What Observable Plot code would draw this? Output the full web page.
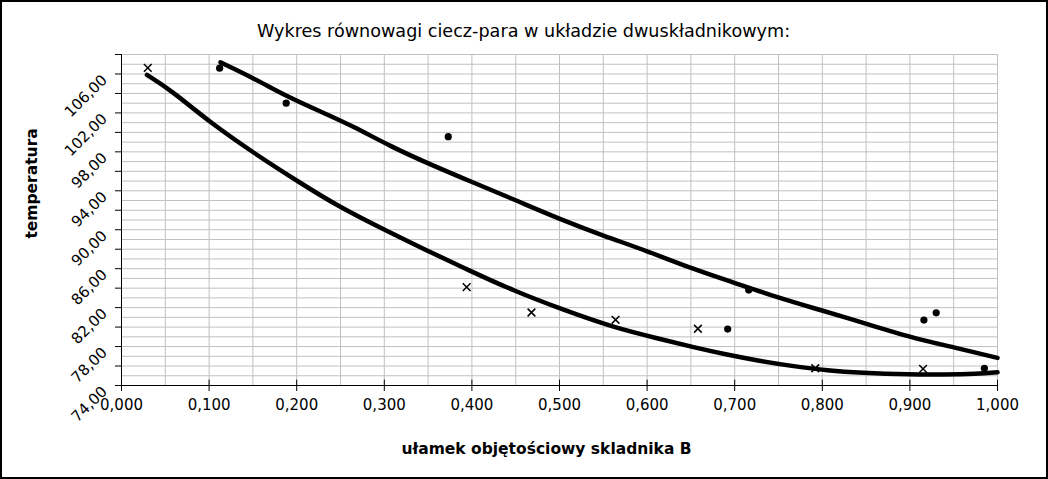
<!DOCTYPE html>
<html>
<head>
<meta charset="utf-8">
<script src="https://cdn.jsdelivr.net/npm/d3@7"></script>
<script src="https://cdn.jsdelivr.net/npm/@observablehq/plot@0.6"></script>
<style>
  body { margin: 0; background: #fff; }
  #wrap { position: relative; width: 1048px; height: 479px; }
  #border { position: absolute; left: 0; top: 0; width: 1048px; height: 479px; box-sizing: border-box; border: 2px solid #000; pointer-events: none; }
</style>
</head>
<body>
<div id="wrap"><div id="border"></div></div>
<script>
// ---- data ----
const titleText = "Wykres równowagi ciecz-para w układzie dwuskładnikowym:";
const xTitle = "ułamek objętościowy skladnika B";
const yTitle = "temperatura";

// liquid (boiling) curve
const liquidX = [0.029, 0.056, 0.102, 0.151, 0.201, 0.250, 0.307, 0.345, 0.398, 0.448, 0.501, 0.562, 0.615, 0.653, 0.691, 0.730, 0.767, 0.806, 0.844, 0.901, 0.938, 0.977, 1.000];
const liquidY = [105.90, 104.37, 100.95, 97.88, 94.98, 92.25, 89.69, 88.02, 85.77, 83.72, 81.88, 79.94, 78.78, 77.92, 77.17, 76.49, 75.98, 75.54, 75.30, 75.13, 75.13, 75.20, 75.36];

// vapour (dew) curve
const vaporX = [0.113, 0.151, 0.189, 0.227, 0.265, 0.307, 0.353, 0.398, 0.448, 0.501, 0.551, 0.600, 0.653, 0.699, 0.749, 0.798, 0.851, 0.901, 0.950, 1.000];
const vaporY = [107.19, 105.56, 103.68, 102.15, 100.61, 98.56, 96.69, 94.98, 93.11, 91.06, 89.35, 87.82, 85.94, 84.57, 83.04, 81.75, 80.32, 78.94, 77.92, 76.84];

// measured points (crosses)
const crossX = [0.030, 0.394, 0.468, 0.564, 0.658, 0.792, 0.915];
const crossY = [106.62, 84.10, 81.50, 80.75, 79.83, 75.77, 75.70];

// measured points (dots)
const dotX = [0.112, 0.188, 0.373, 0.692, 0.716, 0.916, 0.930, 0.985];
const dotY = [106.60, 103.00, 99.56, 79.80, 83.80, 80.72, 81.47, 75.77];

// ticks
const xTicks = [0, 0.1, 0.2, 0.3, 0.4, 0.5, 0.6, 0.7, 0.8, 0.9, 1.0];
const yTicks = [74, 76, 78, 80, 82, 84, 86, 88, 90, 92, 94, 96, 98, 100, 102, 104, 106, 108];
const yLabels = [74, 78, 82, 86, 90, 94, 98, 102, 106];

// ---- build ----
const fmtX = d => d3.format(".3f")(d).replace(".", ",");
const fmtY = d => d3.format(".2f")(d).replace(".", ",");
const xGrid = d3.range(0, 21).map(i => i * 0.05);
const yGrid = d3.range(74, 109);

const liquid = liquidX.map((x, i) => ({x, y: liquidY[i]}));
const vapor = vaporX.map((x, i) => ({x, y: vaporY[i]}));
const crosses = crossX.map((x, i) => ({x, y: crossY[i]}));
const dots = dotX.map((x, i) => ({x, y: dotY[i]}));

const chart = Plot.plot({
  width: 1048,
  height: 479,
  marginLeft: 121,
  marginRight: 51,
  marginTop: 54,
  marginBottom: 94,
  x: {domain: [0, 1]},
  y: {domain: [74, 108]},
  style: {fontFamily: "DejaVu Sans", fontSize: "15px", color: "#000", background: "transparent"},
  marks: [
    Plot.gridY({ticks: yGrid, stroke: "#c0c0c0", strokeOpacity: 1}),
    Plot.gridX({ticks: xGrid, stroke: "#c0c0c0", strokeOpacity: 1}),
    Plot.axisY({ticks: yTicks, tickSize: 6, tickFormat: () => "", label: null}),
    Plot.text(yLabels, {y: d => d, frameAnchor: "left", text: fmtY, rotate: -45, textAnchor: "end", dx: -17, dy: 3.5, fontSize: 15}),
    Plot.axisX({ticks: xTicks, tickSize: 6, tickPadding: 8, tickFormat: fmtX, label: null, fontSize: 15}),
    Plot.ruleX(xTicks, {x: d => d, y1: 74, y2: 74.55, stroke: "#000"}),
    Plot.ruleY([74], {stroke: "#000"}),
    Plot.ruleX([0], {stroke: "#000"}),
    Plot.line(liquid, {x: "x", y: "y", stroke: "#000", strokeWidth: 4.5, curve: "basis"}),
    Plot.line(vapor, {x: "x", y: "y", stroke: "#000", strokeWidth: 4.5, curve: "basis"}),
    Plot.dot(dots, {x: "x", y: "y", r: 3.6, fill: "#000", stroke: null}),
    Plot.dot(crosses, {x: "x", y: "y", symbol: "times", r: 3.6, stroke: "#000", strokeWidth: 1.5}),
    Plot.text([titleText], {frameAnchor: "top", dx: -36, dy: -23, fontSize: 17.6, lineAnchor: "middle"}),
    Plot.text([xTitle], {frameAnchor: "bottom", dx: -13, dy: 64, fontSize: 15.5, fontWeight: "bold", lineAnchor: "middle"}),
    Plot.text([yTitle], {frameAnchor: "left", dx: -89, dy: 18.6, rotate: -90, fontSize: 15.5, fontWeight: "bold", lineAnchor: "middle"})
  ]
});
document.getElementById("wrap").prepend(chart);
</script>
</body>
</html>
